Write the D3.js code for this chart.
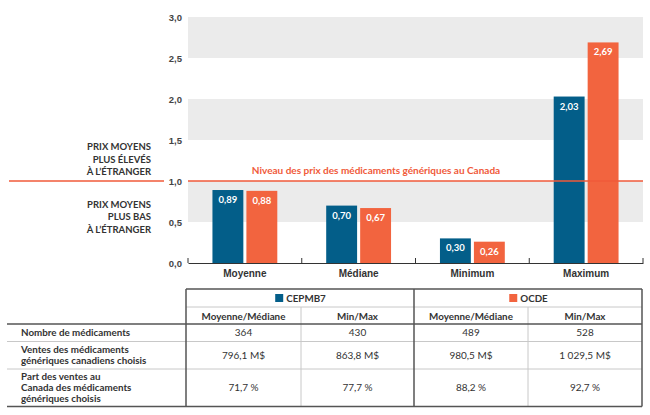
<!DOCTYPE html>
<html><head><meta charset="utf-8">
<script src="https://cdn.jsdelivr.net/npm/d3@7"></script>
<style>
html,body{margin:0;padding:0;background:#fff;}
svg{display:block;font-family:Lato, "Open Sans", sans-serif;}
</style></head>
<body>
<svg id="chart" width="650" height="415"></svg>
<script>
const categories = ["Moyenne", "Médiane", "Minimum", "Maximum"];
const seriesNames = ["CEPMB7", "OCDE"];
const cepmbValues = [0.89, 0.70, 0.30, 2.03];
const ocdeValues = [0.88, 0.67, 0.26, 2.69];
const yTicks = [0, 0.5, 1.0, 1.5, 2.0, 2.5, 3.0];
const referenceLevel = 1.0;
const referenceLabel = "Niveau des prix des médicaments génériques au Canada";
const aboveLabel = ["PRIX MOYENS", "PLUS ÉLEVÉS", "À L’ÉTRANGER"];
const belowLabel = ["PRIX MOYENS", "PLUS BAS", "À L’ÉTRANGER"];
const subHeaders = ["Moyenne/Médiane", "Min/Max", "Moyenne/Médiane", "Min/Max"];
const rowLabels = [
  ["Nombre de médicaments"],
  ["Ventes des médicaments", "génériques canadiens choisis"],
  ["Part des ventes au", "Canada des médicaments", "génériques choisis"]
];
const rowValues = [
  ["364", "430", "489", "528"],
  ["796,1 M$", "863,8 M$", "980,5 M$", "1 029,5 M$"],
  ["71,7 %", "77,7 %", "88,2 %", "92,7 %"]
];

const colors = {CEPMB7: "#035e89", OCDE: "#f2643f"};
const refColor = "#f05a3a";
const svg = d3.select("#chart");

const x0 = d3.scaleBand().domain(categories).range([188, 643]).paddingInner(0).paddingOuter(0);
const x1 = d3.scaleBand().domain(seriesNames).range([0, x0.bandwidth()]).paddingInner(0.09).paddingOuter(0.72);
const y = d3.scaleLinear().domain([0, 3]).range([263, 17]);

// grey bands
const bands = [[0.5, 1.0], [1.5, 2.0], [2.5, 3.0]];
svg.append("g").selectAll("rect").data(bands).join("rect")
  .attr("x", 188).attr("width", 643 - 188)
  .attr("y", d => y(d[1])).attr("height", d => y(d[0]) - y(d[1]))
  .attr("fill", "#ebebeb");

// y axis labels
const yAxis = d3.axisLeft(y).tickValues(yTicks).tickSize(0).tickPadding(0)
  .tickFormat(d => d3.format(".1f")(d).replace(".", ","));
const gy = svg.append("g").attr("transform", "translate(182,0)").call(yAxis);
gy.select(".domain").remove();
gy.selectAll("text").attr("font-size", 9.5).attr("font-weight", "bold").attr("fill", "#444");

// bars
const data = categories.map((c, i) => ({cat: c, vals: [
  {s: "CEPMB7", v: cepmbValues[i]}, {s: "OCDE", v: ocdeValues[i]}]}));
const groups = svg.append("g").selectAll("g").data(data).join("g")
  .attr("transform", d => `translate(${x0(d.cat)},0)`);
groups.selectAll("rect").data(d => d.vals).join("rect")
  .attr("x", d => x1(d.s)).attr("width", x1.bandwidth())
  .attr("y", d => y(d.v)).attr("height", d => y(0) - y(d.v))
  .attr("fill", d => colors[d.s]);
groups.selectAll("text").data(d => d.vals).join("text")
  .attr("x", d => x1(d.s) + x1.bandwidth() / 2)
  .attr("y", d => y(d.v) + 13)
  .attr("text-anchor", "middle").attr("font-size", 9.5).attr("font-weight", "bold")
  .attr("fill", "#fff")
  .text(d => d3.format(".2f")(d.v).replace(".", ","));

// reference line
svg.append("line").attr("x1", 188).attr("x2", 643).attr("y1", y(referenceLevel)).attr("y2", y(referenceLevel))
  .attr("stroke", refColor).attr("stroke-width", 1.5);
svg.append("line").attr("x1", 9).attr("x2", 164).attr("y1", y(referenceLevel)).attr("y2", y(referenceLevel))
  .attr("stroke", refColor).attr("stroke-width", 1.5);
svg.append("text").attr("x", 376).attr("y", y(referenceLevel) - 7)
  .attr("text-anchor", "middle").attr("font-size", 10).attr("font-weight", "bold").attr("fill", refColor)
  .text(referenceLabel);

// left annotations
const ann = svg.append("g").attr("font-size", 9.5).attr("font-weight", "bold").attr("fill", "#333").attr("text-anchor", "end");
aboveLabel.forEach((t, i) => ann.append("text").attr("x", 151).attr("y", 150 + i * 12.5).text(t));
belowLabel.forEach((t, i) => ann.append("text").attr("x", 151).attr("y", 207.5 + i * 12.5).text(t));

// x axis
const xAxis = d3.axisBottom(x0).tickSize(0).tickPadding(7);
const gx = svg.append("g").attr("transform", `translate(0,${y(0)})`).call(xAxis);
gx.select(".domain").attr("stroke", "#333");
gx.selectAll("text").attr("font-size", 10).attr("font-weight", "bold").attr("fill", "#333");
const edges = categories.map(c => x0(c)).concat([x0.range()[1]]);
svg.append("g").selectAll("line").data(edges).join("line")
  .attr("x1", d => d).attr("x2", d => d).attr("y1", y(0) - 5).attr("y2", y(0))
  .attr("stroke", "#333");

// table
const tbl = svg.append("g");
const colEdges = [186, 301, 414, 528, 642];
const colCenters = colEdges.slice(0, 4).map((e, i) => (e + colEdges[i + 1]) / 2);
const tTop = 289, hdrLine = 307, subLine = 324, rowLines = [341.5, 369], tBottom = 406.5;
const light = "#c8c8c8", dark = "#555";
tbl.append("line").attr("x1", 186).attr("x2", 642).attr("y1", hdrLine).attr("y2", hdrLine).attr("stroke", light);
rowLines.forEach(yy => tbl.append("line").attr("x1", 7).attr("x2", 642).attr("y1", yy).attr("y2", yy).attr("stroke", light));
[colEdges[1], colEdges[3]].forEach(xx => tbl.append("line").attr("x1", xx).attr("x2", xx).attr("y1", hdrLine).attr("y2", tBottom).attr("stroke", light));
tbl.append("line").attr("x1", 186).attr("x2", 642).attr("y1", tTop).attr("y2", tTop).attr("stroke", dark).attr("stroke-width", 1.5);
tbl.append("line").attr("x1", 7).attr("x2", 642).attr("y1", subLine).attr("y2", subLine).attr("stroke", dark).attr("stroke-width", 1.5);
tbl.append("line").attr("x1", 7).attr("x2", 642).attr("y1", tBottom).attr("y2", tBottom).attr("stroke", dark).attr("stroke-width", 1.5);
[colEdges[0], colEdges[2], colEdges[4]].forEach(xx => tbl.append("line").attr("x1", xx).attr("x2", xx).attr("y1", tTop).attr("y2", tBottom).attr("stroke", dark).attr("stroke-width", 1.5));

seriesNames.forEach((s, i) => {
  const cx = (colEdges[i * 2] + colEdges[i * 2 + 2]) / 2;
  const t = tbl.append("text").attr("x", cx + 6).attr("y", 302).attr("text-anchor", "middle")
    .attr("font-size", 9.8).attr("font-weight", "bold").attr("fill", "#333").text(s);
  const w = t.node().getComputedTextLength();
  tbl.append("rect").attr("x", cx + 6 - w / 2 - 11).attr("y", 294).attr("width", 8).attr("height", 8).attr("fill", colors[s]);
});
subHeaders.forEach((h, i) => tbl.append("text").attr("x", colCenters[i]).attr("y", 319.5)
  .attr("text-anchor", "middle").attr("font-size", 9.8).attr("font-weight", "bold").attr("fill", "#333").text(h));

const rowTops = [subLine, rowLines[0], rowLines[1]];
const rowBottoms = [rowLines[0], rowLines[1], tBottom];
rowLabels.forEach((lines, r) => {
  const mid = (rowTops[r] + rowBottoms[r]) / 2;
  const lh = 11;
  lines.forEach((l, k) => tbl.append("text").attr("x", 21)
    .attr("y", mid + (k - (lines.length - 1) / 2) * lh + 3.5)
    .attr("font-size", 9.8).attr("font-weight", "bold").attr("fill", "#333").text(l));
  rowValues[r].forEach((v, c) => tbl.append("text").attr("x", colCenters[c]).attr("y", mid + 3.5)
    .attr("text-anchor", "middle").attr("font-size", 10).attr("fill", "#333").text(v));
});
</script>
</body></html>
